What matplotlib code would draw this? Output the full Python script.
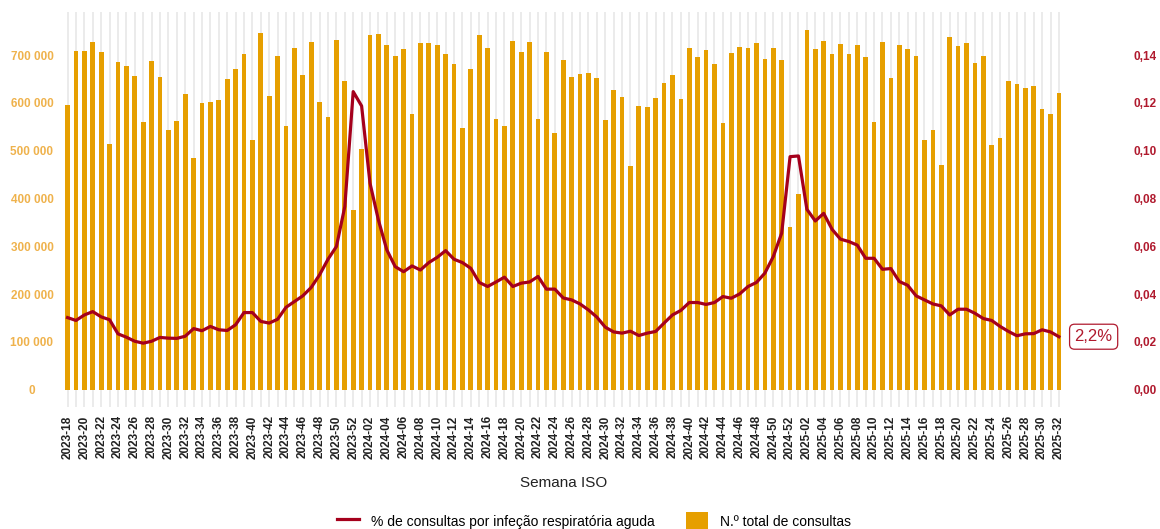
import numpy as np
import matplotlib
matplotlib.use("Agg")
import matplotlib.pyplot as plt
from matplotlib.lines import Line2D
from matplotlib.patches import Patch

plt.rcParams['font.family'] = ['Liberation Sans', 'DejaVu Sans']

# ISO weeks 2023-18 .. 2025-32
semanas = ([f"2023-{w:02d}" for w in range(18, 53)] +
           [f"2024-{w:02d}" for w in range(1, 53)] +
           [f"2025-{w:02d}" for w in range(1, 33)])

# total consultations per week (thousands)
consultas = [
    596, 708, 708, 728, 707, 515, 686, 678, 656, 559,
    688, 654, 544, 562, 618, 485, 600, 602, 605, 649,
    670, 702, 522, 746, 615, 698, 551, 715, 659, 728,
    601, 571, 731, 645, 376, 503, 742, 745, 720, 698,
    712, 576, 726, 726, 721, 703, 681, 547, 670, 742,
    714, 567, 552, 730, 706, 728, 567, 706, 538, 689,
    655, 660, 662, 653, 564, 627, 612, 467, 593, 592,
    611, 642, 659, 609, 714, 696, 710, 681, 558, 704,
    717, 715, 726, 692, 714, 689, 340, 410, 752, 712,
    730, 702, 723, 702, 720, 696, 561, 727, 652, 720,
    712, 698, 522, 543, 471, 737, 718, 726, 684, 698,
    511, 527, 645, 639, 632, 635, 587, 577, 620,
]
consultas = [c * 1000 for c in consultas]

# share of consultations for acute respiratory infection
pct_ira = [
    0.0302, 0.0290, 0.0313, 0.0327, 0.0305, 0.0293, 0.0234, 0.0220, 0.0203, 0.0195,
    0.0203, 0.0219, 0.0216, 0.0215, 0.0224, 0.0256, 0.0247, 0.0265, 0.0251, 0.0248,
    0.0272, 0.0323, 0.0323, 0.0286, 0.0279, 0.0295, 0.0345, 0.0369, 0.0393, 0.0428,
    0.0481, 0.0546, 0.0599, 0.0766, 0.1247, 0.1187, 0.0864, 0.0710, 0.0585, 0.0515,
    0.0494, 0.0518, 0.0501, 0.0532, 0.0554, 0.0582, 0.0546, 0.0532, 0.0508, 0.0449,
    0.0432, 0.0451, 0.0471, 0.0432, 0.0446, 0.0451, 0.0474, 0.0421, 0.0421, 0.0384,
    0.0376, 0.0359, 0.0334, 0.0304, 0.0262, 0.0242, 0.0237, 0.0245, 0.0227, 0.0237,
    0.0244, 0.0279, 0.0313, 0.0332, 0.0365, 0.0365, 0.0357, 0.0365, 0.0390, 0.0383,
    0.0401, 0.0432, 0.0449, 0.0488, 0.0557, 0.0655, 0.0975, 0.0978, 0.0755, 0.0706,
    0.0738, 0.0671, 0.0630, 0.0620, 0.0605, 0.0550, 0.0550, 0.0504, 0.0507, 0.0453,
    0.0437, 0.0393, 0.0376, 0.0359, 0.0351, 0.0313, 0.0337, 0.0337, 0.0320, 0.0298,
    0.0290, 0.0265, 0.0244, 0.0226, 0.0234, 0.0235, 0.0251, 0.0242, 0.0222,
]

laranja = '#e69f00'
laranja_txt = '#efb24c'
vermelho = '#a5001c'
vermelho_txt = '#b01a2e'

x = np.arange(len(semanas))

fig = plt.figure(figsize=(11.6, 5.29), dpi=100)
ax = fig.add_axes([0.0539, 0.2306, 0.8633, 0.7467])
ax2 = ax.twinx()

ax.bar(x, consultas, width=0.56, color=laranja, zorder=2)
ax2.plot(x, pct_ira, color=vermelho, lw=2.3, zorder=3)

ax.set_xlim(-0.6, len(x) - 0.4)
ax.set_ylim(-36000, 790000)
ax2.set_ylim(-0.0072, 0.158)

ax.set_xticks(x)
ax.set_xticklabels([s if i % 2 == 0 else '' for i, s in enumerate(semanas)],
                   rotation=90, fontsize=8.5, fontweight='bold', color='#222222')
ax.grid(axis='x', color='#e6e6e6', lw=1.1, zorder=0)
ax.set_axisbelow(True)

ax.set_yticks(np.arange(0, 700001, 100000))
ax.set_yticklabels([f"{v:,}".replace(',', ' ') for v in range(0, 700001, 100000)],
                   fontsize=8.5, fontweight='bold', color=laranja_txt, ha='center')
ax2.set_yticks(np.arange(0, 0.141, 0.02))
ax2.set_yticklabels([f"{v:.2f}".replace('.', ',') for v in np.arange(0, 0.141, 0.02)],
                    fontsize=8.5, fontweight='bold', color=vermelho_txt)

ax.tick_params(axis='x', length=0, pad=6)
ax.tick_params(axis='y', length=0, pad=22)
ax2.tick_params(axis='y', length=0, pad=50)
for a in (ax, ax2):
    for s in a.spines.values():
        s.set_visible(False)

ax.set_xlabel('Semana ISO', fontsize=11, color='#222222', labelpad=12)

ultimo = pct_ira[-1]
ax2.annotate(f"{ultimo * 100:.1f}%".replace('.', ','), xy=(x[-1], ultimo),
             xytext=(25, 0), textcoords='offset points', ha='center', va='center',
             fontsize=12, color=vermelho_txt, annotation_clip=False,
             bbox=dict(boxstyle='round,pad=0.3', fc='white', ec=vermelho_txt, lw=0.9))

handles = [Line2D([], [], color=vermelho, lw=2.3),
           Patch(facecolor=laranja, edgecolor='none')]
labels = ['% de consultas por infeção respiratória aguda', 'N.º total de consultas']
fig.legend(handles, labels, loc='lower center', bbox_to_anchor=(0.512, -0.026),
           ncol=2, frameon=False, fontsize=10, handlelength=1.6, handleheight=1.6,
           columnspacing=2.3, handletextpad=0.8)

fig.savefig('out.png', dpi=100)
